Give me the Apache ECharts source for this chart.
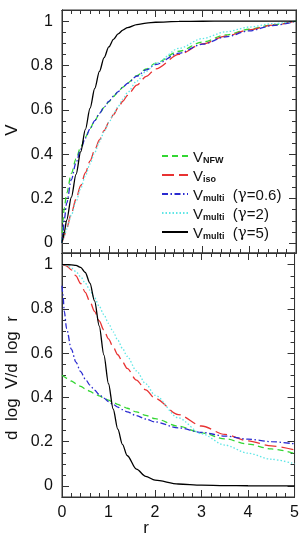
<!DOCTYPE html>
<html>
<head>
<meta charset="utf-8">
<script src="https://cdn.jsdelivr.net/npm/echarts@6/dist/echarts.min.js"></script>
<style>
html,body{margin:0;padding:0;background:#fff;}
#chart{width:302px;height:533px;}
</style>
</head>
<body>
<div id="chart"></div>
<script>
// radius grid
const r = [0, 0.02, 0.05, 0.1, 0.2, 0.3, 0.4, 0.5, 0.6, 0.7, 0.8, 0.9, 1.0, 1.1, 1.2, 1.3, 1.4, 1.6, 1.8, 2.0, 2.5, 3.0, 3.5, 4.0, 4.5, 5.0];

// top panel: V
const vNFW = [0, 0.1015, 0.1598, 0.2246, 0.3135, 0.3791, 0.4322, 0.4773, 0.5166, 0.5514, 0.5826, 0.6108, 0.6364, 0.6602, 0.6820, 0.7022, 0.7210, 0.7547, 0.7844, 0.8105, 0.8642, 0.9054, 0.9376, 0.9632, 0.9836, 1.0];
const vIso = [0, 0.0136, 0.0339, 0.0676, 0.1340, 0.1981, 0.2592, 0.3166, 0.3700, 0.4193, 0.4646, 0.5061, 0.5439, 0.5785, 0.6101, 0.6389, 0.6653, 0.7117, 0.7510, 0.7845, 0.8499, 0.8970, 0.9325, 0.9601, 0.9821, 1.0];
const vG06 = [0, 0.0500, 0.1069, 0.1799, 0.2854, 0.3624, 0.4231, 0.4730, 0.5153, 0.5518, 0.5839, 0.6125, 0.6381, 0.6613, 0.6825, 0.7019, 0.7198, 0.7519, 0.7798, 0.8045, 0.8556, 0.8959, 0.9288, 0.9562, 0.9796, 1.0];
const vG2 = [0, 0.0126, 0.0316, 0.0631, 0.1256, 0.1867, 0.2460, 0.3029, 0.3570, 0.4082, 0.4561, 0.5009, 0.5423, 0.5806, 0.6159, 0.6483, 0.6780, 0.7300, 0.7735, 0.8098, 0.8771, 0.9214, 0.9517, 0.9730, 0.9885, 1.0];
const vG5 = [0, 0.0206, 0.0515, 0.1031, 0.2062, 0.3091, 0.4114, 0.5118, 0.6079, 0.6963, 0.7731, 0.8356, 0.8834, 0.9180, 0.9424, 0.9592, 0.9708, 0.9844, 0.9912, 0.9948, 0.9983, 0.9993, 0.9997, 0.9998, 0.9999, 1.0];

// bottom panel: d log V / d log r
const sNFW = [0.5, 0.4973, 0.4934, 0.4869, 0.4743, 0.4621, 0.4503, 0.4389, 0.4279, 0.4173, 0.4069, 0.3969, 0.3877, 0.3778, 0.3686, 0.3598, 0.3512, 0.3346, 0.3190, 0.3041, 0.2702, 0.2401, 0.2132, 0.1890, 0.1671, 0.1472];
const sIso = [1, 0.9998, 0.9985, 0.9941, 0.9768, 0.9497, 0.9151, 0.8754, 0.8329, 0.7893, 0.7462, 0.7045, 0.6650, 0.6278, 0.5931, 0.5610, 0.5313, 0.4787, 0.4340, 0.3960, 0.3228, 0.2710, 0.2329, 0.2039, 0.1811, 0.1628];
const sG06 = [0.905, 0.8658, 0.7883, 0.7107, 0.6184, 0.5596, 0.5167, 0.4833, 0.4560, 0.4332, 0.4136, 0.3966, 0.3816, 0.3682, 0.3561, 0.3452, 0.3352, 0.3176, 0.3025, 0.2893, 0.2626, 0.2420, 0.2254, 0.2117, 0.2002, 0.1902];
const sG2 = [1, 0.9999, 0.9991, 0.9964, 0.9858, 0.9686, 0.9455, 0.9174, 0.8853, 0.8501, 0.8127, 0.7742, 0.7353, 0.6966, 0.6586, 0.6217, 0.5863, 0.5204, 0.4616, 0.4098, 0.3077, 0.2358, 0.1848, 0.1479, 0.1206, 0.1000];
const sG5 = [1, 1, 1, 1, 0.9996, 0.9972, 0.9882, 0.9649, 0.9170, 0.8363, 0.7238, 0.5925, 0.4620, 0.3478, 0.2566, 0.1878, 0.1377, 0.0757, 0.0435, 0.0261, 0.0087, 0.0035, 0.0016, 0.0008, 0.0005, 0.0003];

// tick labels
const xTicks = [0, 1, 2, 3, 4, 5];
const yTicks = [0, 0.2, 0.4, 0.6, 0.8, 1];

const xMinor = [];
for (let i = 1; i < 25; i++) if (i % 5 !== 0) xMinor.push(Math.round(i * 20) / 100);
const yMinor = [];
for (let i = 1; i < 20; i++) if (i % 4 !== 0) yMinor.push(Math.round(i * 5) / 100);

const FONT = 'Liberation Sans';
const AX = '#333';

const curves = [
  {key: 'NFW', top: vNFW, bot: sNFW, color: '#33d633', type: [6, 4]},
  {key: 'iso', top: vIso, bot: sIso, color: '#e83232', type: [12, 5]},
  {key: 'g06', top: vG06, bot: sG06, color: '#2a2ad0', type: [6, 2.5, 1.5, 2.5]},
  {key: 'g2', top: vG2, bot: sG2, color: '#5ee6e6', type: [1.5, 2]},
  {key: 'g5', top: vG5, bot: sG5, color: '#000000', type: 'solid'}
];

const legendText = {
  NFW: '{v|V}{s|NFW}',
  iso: '{v|V}{s|iso}',
  g06: '{v|V}{s|multi}{t|  (}{g|γ}{t|=0.6)}',
  g2: '{v|V}{s|multi}{t|  (}{g|γ}{t|=2)}',
  g5: '{v|V}{s|multi}{t|  (}{g|γ}{t|=5)}'
};

function xAx(g, pos, vals, len, labels) {
  return {
    type: 'value', gridIndex: g, position: pos, min: 0, max: 5,
    axisLine: {show: true, onZero: false, lineStyle: {color: AX, width: 1}},
    axisTick: {show: true, inside: true, length: len, customValues: vals, lineStyle: {color: AX, width: 1}},
    axisLabel: labels ? {show: true, customValues: xTicks, margin: 8, color: '#111', fontFamily: FONT, fontSize: 16,
      formatter: v => String(v)} : {show: false},
    splitLine: {show: false}
  };
}
function yAx(g, pos, vals, len, labels, mn, mx) {
  return {
    type: 'value', gridIndex: g, position: pos, min: mn, max: mx,
    axisLine: {show: true, onZero: false, lineStyle: {color: AX, width: 1}},
    axisTick: {show: true, inside: true, length: len, customValues: vals, lineStyle: {color: AX, width: 1}},
    axisLabel: labels ? {show: true, customValues: yTicks, margin: 9, color: '#111', fontFamily: FONT, fontSize: 16,
      formatter: v => String(+(+v).toFixed(1))} : {show: false},
    splitLine: {show: false}
  };
}

const grids = [
  {left: 62, width: 234, top: 10, height: 243, ymin: -0.045, ymax: 1.05, xlab: false},
  {left: 62, width: 234, top: 253, height: 244, ymin: -0.05, ymax: 1.053, xlab: true}
];

const xAxis = [], yAxis = [];
grids.forEach((g, gi) => {
  xAxis.push(xAx(gi, 'bottom', xTicks, 7, g.xlab));
  xAxis.push(xAx(gi, 'bottom', xMinor, 4, false));
  xAxis.push(xAx(gi, 'top', xTicks, 7, false));
  xAxis.push(xAx(gi, 'top', xMinor, 4, false));
  yAxis.push(yAx(gi, 'left', yTicks, 7, true, g.ymin, g.ymax));
  yAxis.push(yAx(gi, 'left', yMinor, 4, false, g.ymin, g.ymax));
  yAxis.push(yAx(gi, 'right', yTicks, 7, false, g.ymin, g.ymax));
  yAxis.push(yAx(gi, 'right', yMinor, 4, false, g.ymin, g.ymax));
});

const series = [];
[0, 1].forEach(p => {
  curves.forEach(c => {
    const vals = p === 0 ? c.top : c.bot;
    series.push({
      type: 'line', name: c.key, xAxisIndex: p * 4, yAxisIndex: p * 4,
      data: r.map((x, i) => [x, vals[i]]),
      showSymbol: false, symbol: 'none', smooth: 0.3, smoothMonotone: 'x',
      lineStyle: {color: c.color, width: 1.3, type: c.type},
      itemStyle: {color: c.color},
      animation: false, silent: true
    });
  });
});

const chart = echarts.init(document.getElementById('chart'), null, {renderer: 'canvas'});
chart.setOption({
  animation: false,
  backgroundColor: '#fff',
  grid: grids.map(g => ({left: g.left, width: g.width, top: g.top, height: g.height, show: true,
    borderColor: AX, borderWidth: 1, backgroundColor: 'transparent', containLabel: false})),
  xAxis, yAxis, series,
  legend: {
    orient: 'vertical', left: 156, top: 145, itemWidth: 26, itemHeight: 12, itemGap: 4,
    selectedMode: false,
    itemStyle: {opacity: 0, borderWidth: 0},
    data: curves.map(c => c.key),
    formatter: n => legendText[n],
    textStyle: {
      color: '#111', fontFamily: FONT, fontSize: 15,
      rich: {
        v: {fontSize: 15, fontFamily: FONT, color: '#111', lineHeight: 18, verticalAlign: 'bottom'},
        s: {fontSize: 9, fontFamily: FONT, fontWeight: 'bold', color: '#111', lineHeight: 10, verticalAlign: 'bottom'},
        t: {fontSize: 15, fontFamily: FONT, color: '#111', lineHeight: 18, verticalAlign: 'bottom'},
        g: {fontSize: 15, fontFamily: 'DejaVu Serif', color: '#111', lineHeight: 18, verticalAlign: 'bottom'}
      }
    }
  },
  graphic: [
    {type: 'text', x: 12, y: 130, rotation: Math.PI / 2,
      style: {text: 'V', font: '17px "Liberation Sans"', fill: '#111', align: 'center', verticalAlign: 'middle'}},
    {type: 'text', x: 12, y: 378, rotation: Math.PI / 2,
      style: {text: 'd  log  V/d  log  r', font: '17px "Liberation Sans"', fill: '#111', align: 'center', verticalAlign: 'middle'}},
    {type: 'text', x: 146, y: 528,
      style: {text: 'r', font: '17px "Liberation Sans"', fill: '#111', align: 'center', verticalAlign: 'middle'}}
  ]
});
</script>
</body>
</html>
